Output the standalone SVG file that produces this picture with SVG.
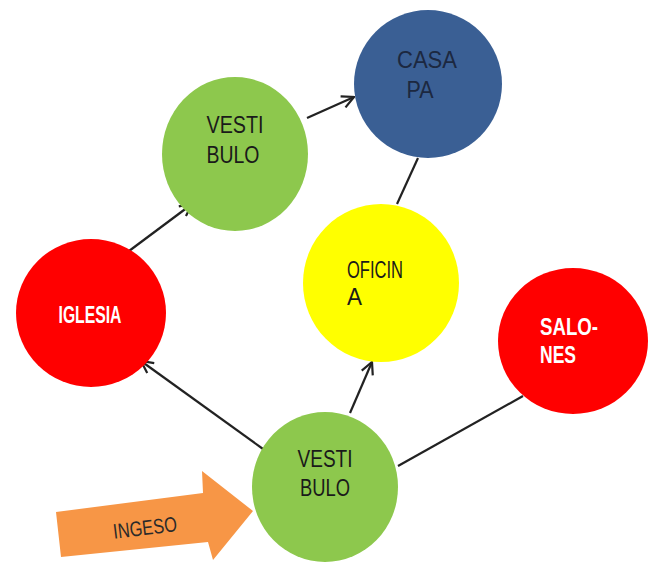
<svg xmlns="http://www.w3.org/2000/svg" width="657" height="563" viewBox="0 0 657 563">
<style>
.lbl{font-family:"Liberation Sans",Arial,sans-serif;font-size:24px;fill:#1a1a1a}
.wl{font-family:"Liberation Sans",Arial,sans-serif;font-size:23px;font-weight:bold;fill:#ffffff}
.edge{stroke:#222;stroke-width:2.2;fill:none}
.green{fill:#8DC84D}
.red{fill:#FF0000}
</style>
<defs>
<marker id="open" viewBox="0 0 14 14" refX="13" refY="7" markerWidth="14" markerHeight="14" markerUnits="userSpaceOnUse" orient="auto">
<path d="M1,1 L13,7 L1,13" fill="none" stroke="#222" stroke-width="2.2"/>
</marker>
</defs>
<rect width="657" height="563" fill="#ffffff"/>
<g id="connectors">
<line class="edge" x1="125" y1="254" x2="192" y2="204" marker-end="url(#open)"/>
<line class="edge" x1="307" y1="118" x2="354" y2="97" marker-end="url(#open)"/>
<line class="edge" x1="418" y1="158" x2="397" y2="204"/>
<line class="edge" x1="263" y1="449" x2="141" y2="361" marker-end="url(#open)"/>
<line class="edge" x1="350" y1="413" x2="372" y2="362" marker-end="url(#open)"/>
<line class="edge" x1="398" y1="466" x2="523" y2="396"/>
</g>
<g id="casa-pa">
<ellipse cx="428" cy="84" rx="74" ry="74" fill="#3A5F94"/>
<text class="lbl" style="fill:#1c2840" x="427" y="68" text-anchor="middle" textLength="60" lengthAdjust="spacingAndGlyphs">CASA</text>
<text class="lbl" style="fill:#1c2840" x="420" y="98" text-anchor="middle" textLength="27" lengthAdjust="spacingAndGlyphs">PA</text>
</g>
<g id="vestibulo-top">
<ellipse class="green" cx="235" cy="154" rx="73" ry="77"/>
<text class="lbl" x="235" y="133" text-anchor="middle" textLength="57" lengthAdjust="spacingAndGlyphs">VESTI</text>
<text class="lbl" x="233" y="163" text-anchor="middle" textLength="53" lengthAdjust="spacingAndGlyphs">BULO</text>
</g>
<g id="oficina">
<ellipse cx="381" cy="283" rx="78" ry="79" fill="#FFFF00"/>
<text class="lbl" x="347" y="278" textLength="56" lengthAdjust="spacingAndGlyphs">OFICIN</text>
<text class="lbl" x="347" y="305" textLength="15" lengthAdjust="spacingAndGlyphs">A</text>
</g>
<g id="iglesia">
<ellipse class="red" cx="91" cy="313" rx="75" ry="74"/>
<text class="wl" x="90" y="323" text-anchor="middle" textLength="63" lengthAdjust="spacingAndGlyphs">IGLESIA</text>
</g>
<g id="salones">
<ellipse class="red" cx="573" cy="341" rx="75" ry="73"/>
<text class="wl" x="540" y="335" textLength="58" lengthAdjust="spacingAndGlyphs">SALO-</text>
<text class="wl" x="540" y="363" textLength="36" lengthAdjust="spacingAndGlyphs">NES</text>
</g>
<g id="vestibulo-bottom">
<ellipse class="green" cx="325" cy="487" rx="73" ry="75"/>
<text class="lbl" x="325" y="467" text-anchor="middle" textLength="55" lengthAdjust="spacingAndGlyphs">VESTI</text>
<text class="lbl" x="325" y="496" text-anchor="middle" textLength="50" lengthAdjust="spacingAndGlyphs">BULO</text>
</g>
<g id="ingeso">
<polygon points="56,512 203,493 202,471 253,511 213,560 208,542 61,557" fill="#F79646"/>
<text class="lbl" x="145" y="535" text-anchor="middle" textLength="64" lengthAdjust="spacingAndGlyphs" transform="rotate(-7 145 528)" style="fill:#2a2a2a;font-size:21px">INGESO</text>
</g>
</svg>
